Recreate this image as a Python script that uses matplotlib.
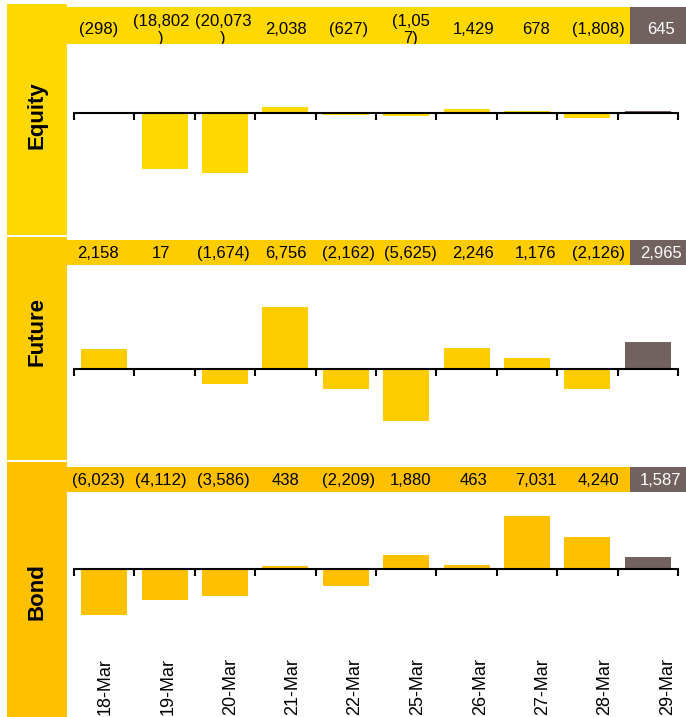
import matplotlib
matplotlib.use('Agg')
import matplotlib.pyplot as plt
import matplotlib.transforms as mtransforms

plt.rcParams['font.family'] = ['Liberation Sans', 'DejaVu Sans']

# Data (flows by day)
dates = ['18-Mar', '19-Mar', '20-Mar', '21-Mar', '22-Mar',
         '25-Mar', '26-Mar', '27-Mar', '28-Mar', '29-Mar']
equity = [-298, -18802, -20073, 2038, -627, -1057, 1429, 678, -1808, 645]
future = [2158, 17, -1674, 6756, -2162, -5625, 2246, 1176, -2126, 2965]
bond = [-6023, -4112, -3586, 438, -2209, 1880, 463, 7031, 4240, 1587]

# Equity cells wrap in the original table
equity_labels = ['(298)', '(18,802\n)', '(20,073\n)', '2,038', '(627)',
                 '(1,05\n7)', '1,429', '678', '(1,808)', '645']

col_equity = '#FFD800'
col_future = '#FFCC00'
col_bond = '#FFC000'
col_last = '#716260'

W, H = 686, 717
fig = plt.figure(figsize=(W / 100, H / 100), dpi=100)


def rect(x0, y0, x1, y1):
    # pixel box (top-left origin) -> figure fraction
    return [x0 / W, 1 - y1 / H, (x1 - x0) / W, (y1 - y0) / H]


def fmt(v):
    return f'({abs(v):,})' if v < 0 else f'{v:,}'


def panel(name, values, labels, color, box, band, plot, ylim, name_y):
    # side label box
    side = fig.add_axes(rect(7, box[0], 67, box[1]))
    side.set_facecolor(color)
    side.set_xticks([]); side.set_yticks([])
    for s in side.spines.values():
        s.set_visible(False)
    side.text(0.5, (box[1] - name_y) / (box[1] - box[0]), name, rotation=90,
              ha='center', va='center', fontsize=16, fontweight='bold',
              transform=side.transAxes)

    # value band
    bax = fig.add_axes(rect(67, band[0], 692, band[1]))
    n = len(values)
    cell_cols = [color] * (n - 1) + [col_last]
    bax.bar(range(n), [1] * n, width=1, align='edge', color=cell_cols)
    bax.set_xlim(0, n); bax.set_ylim(0, 1)
    bax.axis('off')
    yc = band[2]
    for i, lab in enumerate(labels):
        bax.text(i + 0.5, yc, lab, ha='center', va='center', fontsize=12,
                 color='white' if i == n - 1 else 'black', clip_on=True,
                 linespacing=1.15)

    # bars
    ax = fig.add_axes(rect(74, plot[0], 678, plot[1]))
    ax.bar(range(n), values, width=0.76, color=cell_cols, zorder=2)
    ax.set_xlim(-0.5, n - 0.5)
    ax.set_ylim(*ylim)
    for s in ['left', 'right', 'top']:
        ax.spines[s].set_visible(False)
    ax.spines['bottom'].set_position(('data', 0))
    ax.spines['bottom'].set_linewidth(1.5)
    ax.spines['bottom'].set_zorder(3)
    ax.set_yticks([])
    ax.set_xticks([i - 0.5 for i in range(n + 1)])
    ax.set_xticklabels([])
    ax.tick_params(axis='x', direction='out', length=5, width=1.5)
    ax.patch.set_alpha(0)
    return ax, bax


panel('Equity', equity, equity_labels, col_equity,
      (4, 235), (7, 44, 0.38), (44, 235), (-40700, 23000), 115)
panel('Future', future, [fmt(v) for v in future], col_future,
      (237, 460), (240, 265, 0.45), (265, 460), (-9930, 11360), 331)
ax_b, band_b = panel('Bond', bond, [fmt(v) for v in bond], col_bond,
                     (462, 717), (467, 492, 0.45), (492, 640), (-9340, 10130), 592)

# date labels along the bottom
trans = mtransforms.blended_transform_factory(band_b.transData, fig.transFigure)
for i, d in enumerate(dates):
    fig.text(i + 0.61, 1 - 715 / H, d, rotation=90, ha='center', va='bottom',
             fontsize=13, transform=trans)

fig.savefig('out.png', dpi=100)
